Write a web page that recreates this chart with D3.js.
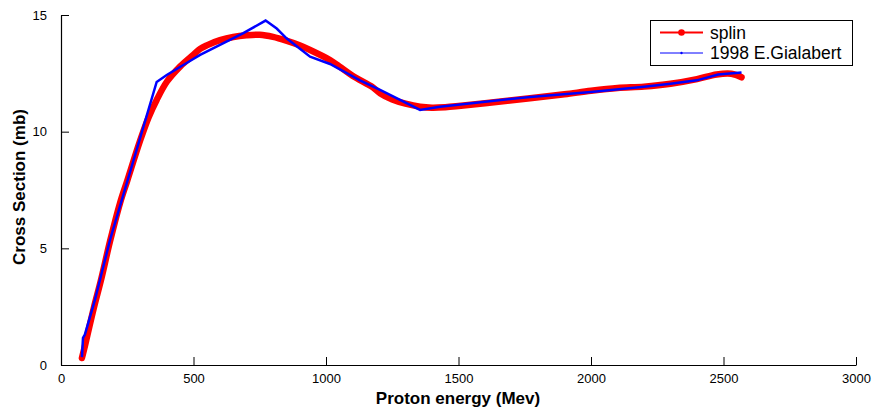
<!DOCTYPE html>
<html>
<head>
<meta charset="utf-8">
<script src="https://cdn.jsdelivr.net/npm/d3@7"></script>
<style>
  html, body { margin: 0; padding: 0; background: #fff; }
  svg { display: block; font-family: "Liberation Sans", Arial, sans-serif; }
</style>
</head>
<body>
<svg id="chart" width="876" height="410"></svg>
<script>
// Spline fit of the proton cross section (energy in MeV, sigma in mb)
const splinEnergy = [79, 90, 100, 125, 150, 185, 223, 250, 298, 330, 361, 400, 450, 500, 525, 550, 600, 650, 700, 750, 800, 850, 900, 940, 1015, 1050, 1100, 1177, 1204, 1250, 1300, 1355, 1400, 1450, 1500, 1600, 1770, 1900, 2000, 2100, 2200, 2300, 2400, 2474, 2530, 2568];
const splinSigma  = [0.3, 0.8, 1.3, 2.5, 3.6, 5.3, 6.95, 7.9, 9.6, 10.6, 11.36, 12.15, 12.8, 13.3, 13.55, 13.7, 13.92, 14.06, 14.13, 14.15, 14.06, 13.9, 13.7, 13.5, 13.07, 12.8, 12.4, 11.9, 11.65, 11.38, 11.2, 11.07, 11.03, 11.05, 11.1, 11.22, 11.43, 11.6, 11.75, 11.87, 11.93, 12.05, 12.25, 12.45, 12.48, 12.33];

// 1998 E.Gialabert measurement
const gialEnergy = [79, 83, 90, 128, 185, 361, 399, 493, 525, 688, 772, 814, 851, 940, 1015, 1128, 1204, 1355, 1430, 1600, 1770, 2000, 2200, 2300, 2399, 2480, 2568];
const gialSigma  = [0.34, 1.16, 1.3, 2.79, 5.36, 12.13, 12.43, 13.07, 13.29, 14.22, 14.76, 14.42, 14.0, 13.21, 12.9, 12.2, 11.79, 10.93, 11.07, 11.28, 11.49, 11.7, 11.92, 12.05, 12.2, 12.45, 12.54];

const xTicks = [0, 500, 1000, 1500, 2000, 2500, 3000];
const yTicks = [0, 5, 10, 15];

const seriesNames = ["splin", "1998 E.Gialabert"];
const seriesColors = ["#ff0000", "#0000ff"];

const svg = d3.select("#chart");

const x = d3.scaleLinear().domain([0, 3000]).range([61, 856]);
const y = d3.scaleLinear().domain([0, 15]).range([365, 15]);

// Axes: left and bottom only, ticks pointing inward
const xAxis = d3.axisBottom(x).tickValues(xTicks).tickSizeInner(-8).tickSizeOuter(0).tickPadding(9).tickFormat(d3.format("d"));
const yAxis = d3.axisLeft(y).tickValues(yTicks).tickSizeInner(-8).tickSizeOuter(0).tickPadding(14).tickFormat(d3.format("d"));

const gx = svg.append("g").attr("transform", "translate(0,365)").call(xAxis);
const gy = svg.append("g").attr("transform", "translate(61,0)").call(yAxis);
[gx, gy].forEach(g => {
  g.selectAll("path.domain").attr("stroke", "#000").attr("stroke-width", 1.2);
  g.selectAll(".tick line").attr("stroke", "#000").attr("stroke-width", 1);
  g.selectAll(".tick text").attr("fill", "#000").style("font-size", "13px").style("font-family", "Liberation Sans, Arial, sans-serif");
});

// Axis titles
svg.append("text")
  .attr("x", 458).attr("y", 404)
  .attr("text-anchor", "middle")
  .style("font-size", "17px").style("font-weight", "bold")
  .text("Proton energy (Mev)");

svg.append("text")
  .attr("transform", "translate(25,187) rotate(-90)")
  .attr("text-anchor", "middle")
  .style("font-size", "17px").style("font-weight", "bold")
  .text("Cross Section (mb)");

// Curves
const splinData = splinEnergy.map((e, i) => [e, splinSigma[i]]);
const gialData = gialEnergy.map((e, i) => [e, gialSigma[i]]);

const smoothLine = d3.line().x(d => x(d[0])).y(d => y(d[1])).curve(d3.curveCatmullRom.alpha(0.5));
const straightLine = d3.line().x(d => x(d[0])).y(d => y(d[1]));

svg.append("path").datum(splinData)
  .attr("d", smoothLine)
  .attr("fill", "none").attr("stroke", seriesColors[0])
  .attr("stroke-width", 6.5).attr("stroke-linejoin", "round").attr("stroke-linecap", "round");

svg.append("path").datum(gialData)
  .attr("d", straightLine)
  .attr("fill", "none").attr("stroke", seriesColors[1])
  .attr("stroke-width", 2.5).attr("stroke-linejoin", "miter");

// Legend
const lg = svg.append("g");
lg.append("rect").attr("x", 650.5).attr("y", 20.5).attr("width", 202).attr("height", 45)
  .attr("fill", "#fff").attr("stroke", "#000").attr("stroke-width", 1);
const rowsY = [32.5, 53];
seriesNames.forEach((name, i) => {
  lg.append("line").attr("x1", 660).attr("x2", 703).attr("y1", rowsY[i]).attr("y2", rowsY[i])
    .attr("stroke", seriesColors[i]).attr("stroke-width", i === 0 ? 2 : 1);
  lg.append("circle").attr("cx", 681.5).attr("cy", rowsY[i]).attr("r", i === 0 ? 3.3 : 1.2)
    .attr("fill", seriesColors[i]);
  lg.append("text").attr("x", 710).attr("y", rowsY[i] + 6)
    .style("font-size", "17.5px").text(name);
});
</script>
</body>
</html>
